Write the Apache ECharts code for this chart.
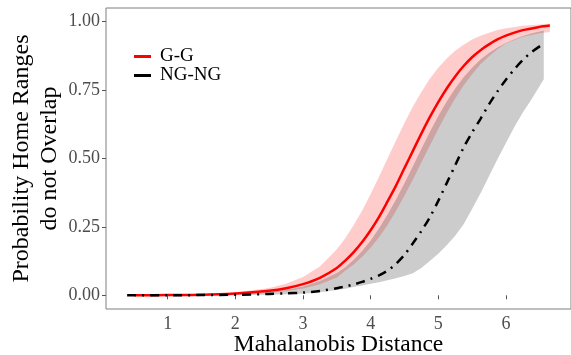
<!DOCTYPE html>
<html>
<head>
<meta charset="utf-8">
<script src="https://cdn.jsdelivr.net/npm/echarts@6/dist/echarts.min.js"></script>
<style>
  html, body { margin: 0; padding: 0; background: #fff; }
  #chart { width: 571px; height: 355px; }
</style>
</head>
<body>
<div id="chart"></div>
<script>
// G-G (red) curve and its ribbon
const xGG = [0.51, 1.0, 1.5, 2.0, 2.5, 2.75, 3.0, 3.25, 3.5, 3.625, 3.75, 3.875, 4.0, 4.125, 4.25, 4.375, 4.5, 4.625, 4.75, 4.875, 5.0, 5.125, 5.25, 5.375, 5.5, 5.625, 5.75, 5.875, 6.0, 6.25, 6.5, 6.65];
const ggMean = [0.000, 0.001, 0.002, 0.007, 0.017, 0.026, 0.041, 0.064, 0.100, 0.127, 0.158, 0.195, 0.238, 0.287, 0.343, 0.401, 0.465, 0.528, 0.591, 0.651, 0.706, 0.756, 0.800, 0.838, 0.870, 0.896, 0.917, 0.935, 0.949, 0.969, 0.981, 0.986];
const ggLower = [0.000, 0.000, 0.001, 0.003, 0.009, 0.015, 0.025, 0.040, 0.065, 0.090, 0.113, 0.141, 0.174, 0.212, 0.257, 0.308, 0.364, 0.423, 0.485, 0.547, 0.608, 0.666, 0.719, 0.767, 0.808, 0.844, 0.874, 0.899, 0.920, 0.945, 0.958, 0.962];
const ggUpper = [0.000, 0.001, 0.004, 0.010, 0.027, 0.042, 0.067, 0.105, 0.168, 0.209, 0.257, 0.310, 0.370, 0.434, 0.500, 0.566, 0.630, 0.690, 0.743, 0.791, 0.832, 0.865, 0.894, 0.916, 0.935, 0.949, 0.960, 0.970, 0.976, 0.985, 0.990, 0.992];

// NG-NG (black dot-dash) curve and its ribbon
const xNG = [0.40, 1.0, 1.5, 2.0, 2.5, 2.75, 3.0, 3.25, 3.5, 3.625, 3.75, 3.875, 4.0, 4.125, 4.25, 4.375, 4.5, 4.625, 4.75, 4.875, 5.0, 5.125, 5.25, 5.375, 5.5, 5.625, 5.75, 5.875, 6.0, 6.125, 6.25, 6.375, 6.56];
const ngMean = [0.000, 0.000, 0.001, 0.002, 0.005, 0.007, 0.010, 0.016, 0.026, 0.032, 0.040, 0.049, 0.060, 0.073, 0.090, 0.115, 0.148, 0.190, 0.235, 0.285, 0.345, 0.410, 0.475, 0.540, 0.595, 0.645, 0.698, 0.745, 0.788, 0.826, 0.860, 0.888, 0.920];
const ngLower = [0.000, 0.000, 0.000, 0.000, 0.002, 0.004, 0.006, 0.011, 0.019, 0.024, 0.030, 0.036, 0.042, 0.048, 0.055, 0.062, 0.071, 0.081, 0.100, 0.125, 0.152, 0.183, 0.218, 0.260, 0.315, 0.373, 0.435, 0.497, 0.557, 0.615, 0.668, 0.715, 0.790];
const ngUpper = [0.000, 0.001, 0.002, 0.005, 0.012, 0.020, 0.032, 0.052, 0.082, 0.103, 0.130, 0.162, 0.200, 0.245, 0.295, 0.350, 0.410, 0.472, 0.535, 0.597, 0.655, 0.708, 0.756, 0.797, 0.832, 0.862, 0.886, 0.906, 0.922, 0.936, 0.948, 0.957, 0.968];

const xTicks = [1, 2, 3, 4, 5, 6];
const yTicks = [0, 0.25, 0.5, 0.75, 1];

const zip = (xs, ys) => xs.map((x, i) => [x, ys[i]]);

const serif = "Liberation Serif";
const chart = echarts.init(document.getElementById("chart"));

// ribbon drawn as one polygon: upper edge left->right, lower edge right->left
const band = (xs, lo, hi, color) => ({
  type: "custom",
  data: [0],
  silent: true,
  z: 1,
  renderItem: (params, api) => {
    const top = xs.map((x, i) => api.coord([x, hi[i]]));
    const bot = xs.map((x, i) => api.coord([x, lo[i]])).reverse();
    return {
      type: "polygon",
      shape: { points: top.concat(bot) },
      style: { fill: color },
    };
  },
});

chart.setOption({
  animation: false,
  grid: {
    left: 106,
    right: 0,
    top: 8,
    bottom: 46,
    outerBoundsMode: "none",
    show: true,
    borderColor: "#7f7f7f",
    borderWidth: 1,
    backgroundColor: "transparent",
  },
  legend: {
    orient: "vertical",
    left: 129,
    top: 42,
    itemWidth: 17,
    itemHeight: 3,
    itemGap: 0,
    textStyle: { fontFamily: serif, fontSize: 19, color: "#000", lineHeight: 19, padding: [0, 0, 0, 4] },
    data: [
      { name: "G-G", icon: "rect", itemStyle: { color: "#ff0000" } },
      { name: "NG-NG", icon: "rect", itemStyle: { color: "#000" } },
    ],
  },
  xAxis: {
    type: "value",
    min: 0.0875,
    max: 6.9625,
    name: "Mahalanobis Distance",
    nameLocation: "middle",
    nameGap: 24,
    nameMoveOverlap: false,
    nameTextStyle: { fontFamily: serif, fontSize: 23.5, color: "#000" },
    axisLine: { show: false },
    splitLine: { show: false },
    axisTick: { show: true, length: 4, customValues: xTicks, lineStyle: { color: "#555" } },
    axisLabel: { customValues: xTicks, fontFamily: serif, fontSize: 18, color: "#4d4d4d", margin: 6 },
  },
  yAxis: {
    type: "value",
    min: -0.05,
    max: 1.05,
    name: "Probability Home Ranges\ndo not Overlap",
    nameLocation: "middle",
    nameGap: 42,
    nameMoveOverlap: false,
    nameTextStyle: { fontFamily: serif, fontSize: 24, color: "#000", lineHeight: 28 },
    axisLine: { show: false },
    splitLine: { show: false },
    axisTick: { show: true, length: 4, customValues: yTicks, lineStyle: { color: "#555" } },
    axisLabel: {
      customValues: yTicks,
      fontFamily: serif,
      fontSize: 18,
      color: "#4d4d4d",
      margin: 6,
      formatter: (v) => v.toFixed(2),
    },
  },
  series: [
    band(xGG, ggLower, ggUpper, "rgba(255,0,0,0.2)"),
    band(xNG, ngLower, ngUpper, "rgba(0,0,0,0.2)"),
    {
      name: "G-G",
      type: "line",
      data: zip(xGG, ggMean),
      symbol: "none",
      smooth: 0.3,
      lineStyle: { color: "#ff0000", width: 2.5 },
      itemStyle: { color: "#ff0000" },
      z: 3,
    },
    {
      name: "NG-NG",
      type: "line",
      data: zip(xNG, ngMean),
      symbol: "none",
      smooth: 0.3,
      lineStyle: { color: "#000", width: 2.5, type: [9, 6, 2, 6] },
      itemStyle: { color: "#000" },
      z: 4,
    },
  ],
});
</script>
</body>
</html>
